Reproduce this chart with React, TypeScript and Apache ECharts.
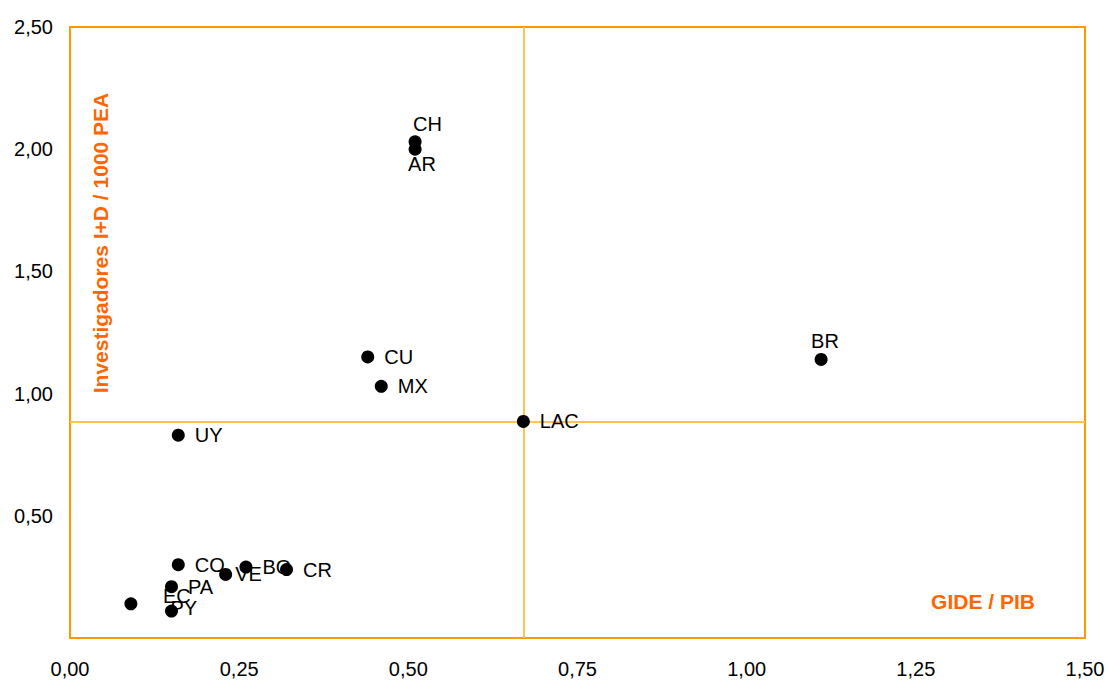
import React, { useEffect, useRef } from "react";
import * as echarts from "echarts";

const countryCodes = ["CH", "AR", "CU", "MX", "BR", "LAC", "UY", "CO", "BO", "VE", "CR", "PA", "EC", "PY"];
const gidePib = [0.51, 0.51, 0.44, 0.46, 1.11, 0.67, 0.16, 0.16, 0.26, 0.23, 0.32, 0.15, 0.09, 0.15];
const investigadores = [2.03, 2.0, 1.15, 1.03, 1.14, 0.886, 0.83, 0.3, 0.29, 0.26, 0.28, 0.21, 0.14, 0.11];

const xTicks = { min: 0, max: 1.5, interval: 0.25 };
const yTicks = { min: 0, max: 2.5, interval: 0.5 };

const xTitle = "GIDE / PIB";
const yTitle = "Investigadores I+D / 1000 PEA";
const referenceCode = "LAC";

// label placement overrides (offset from point centre, in px)
const labelOffsets: Record<string, [number, number]> = {
  CH: [-2, -18],
  AR: [-7, 15],
  BR: [-10, -18],
  EC: [32, -8],
  PY: [-1, -3],
  VE: [9.5, 0],
};

const FONT = "'Liberation Sans', Arial, sans-serif";
const ORANGE = "#FF9900";
const TITLE_ORANGE = "#FF6600";
const LINE_ORANGE = "#FFC44F";

const fmt = (v: number) => v.toFixed(2).replace(".", ",");

export default function App() {
  const ref = useRef<HTMLDivElement>(null);

  useEffect(() => {
    if (!ref.current) return;
    document.body.style.margin = "0";
    const chart = echarts.init(ref.current, undefined, { renderer: "svg" });
    const refIdx = countryCodes.indexOf(referenceCode);
    const refX = gidePib[refIdx];
    const refY = investigadores[refIdx];

    const labelData = countryCodes.map((c, i) => {
      const off = labelOffsets[c];
      const item: any = { name: c, value: [gidePib[i], investigadores[i]] };
      if (off) {
        item.label = {
          position: ["50%", "50%"],
          align: "left",
          verticalAlign: "middle",
          offset: off,
        };
      }
      return item;
    });
    const dotData = countryCodes.map((c, i) => ({ name: c, value: [gidePib[i], investigadores[i]] }));

    const titles = [
      {
        type: "text",
        x: 100,
        y: 243,
        rotation: Math.PI / 2,
        z: 5,
        style: {
          text: yTitle,
          fill: TITLE_ORANGE,
          font: `bold 21px ${FONT}`,
          align: "center",
          verticalAlign: "middle",
          textAlign: "center",
          textVerticalAlign: "middle",
        },
      },
      {
        type: "text",
        x: 983,
        y: 601,
        z: 5,
        style: {
          text: xTitle,
          fill: TITLE_ORANGE,
          font: `bold 21px ${FONT}`,
          align: "center",
          verticalAlign: "middle",
          textAlign: "center",
          textVerticalAlign: "middle",
        },
      },
    ];

    chart.setOption({
      animation: false,
      grid: {
        left: 70,
        right: 24,
        top: 27,
        bottom: 44,
        show: true,
        borderColor: ORANGE,
        borderWidth: 2,
        backgroundColor: "transparent",
        containLabel: false,
        outerBoundsMode: "none",
      },
      xAxis: {
        type: "value",
        min: xTicks.min,
        max: xTicks.max,
        interval: xTicks.interval,
        axisLine: { show: false },
        axisTick: { show: false },
        splitLine: { show: false },
        axisLabel: {
          formatter: (v: number) => fmt(v),
          fontSize: 20,
          color: "#000",
          fontFamily: FONT,
          margin: 21,
        },
      },
      yAxis: {
        type: "value",
        min: yTicks.min,
        max: yTicks.max,
        interval: yTicks.interval,
        axisLine: { show: false },
        axisTick: { show: false },
        splitLine: { show: false },
        axisLabel: {
          formatter: (v: number) => (v === 0 ? "" : fmt(v)),
          fontSize: 20,
          color: "#000",
          fontFamily: FONT,
          margin: 17,
        },
      },
      graphic: titles,
      series: [
        {
          name: "labels",
          type: "scatter",
          z: 3,
          symbol: "circle",
          symbolSize: 13,
          itemStyle: { color: "rgba(0,0,0,0)", opacity: 1 },
          silent: true,
          label: {
            show: true,
            position: "right",
            distance: 10,
            formatter: (p: any) => p.name,
            color: "#000",
            opacity: 1,
            fontSize: 20,
            fontFamily: FONT,
          },
          data: labelData,
        },
        {
          name: "dots",
          type: "scatter",
          z: 4,
          symbol: "circle",
          symbolSize: 13,
          silent: true,
          itemStyle: { color: "#000", opacity: 1 },
          label: { show: false },
          data: dotData,
        },
      ],
    });

    // reference lines through the LAC point, positioned via the chart's own scales
    const top = chart.convertToPixel({ gridIndex: 0 }, [refX, yTicks.max]) as number[];
    const bottom = chart.convertToPixel({ gridIndex: 0 }, [refX, yTicks.min]) as number[];
    const left = chart.convertToPixel({ gridIndex: 0 }, [xTicks.min, refY]) as number[];
    const right = chart.convertToPixel({ gridIndex: 0 }, [xTicks.max, refY]) as number[];
    const vx = Math.floor(top[0]);
    const hy = Math.floor(left[1]);
    chart.setOption({
      graphic: [
        ...titles,
        {
          type: "rect",
          z: 1,
          silent: true,
          shape: { x: vx, y: top[1], width: 2, height: bottom[1] - top[1] },
          style: { fill: LINE_ORANGE, stroke: null },
        },
        {
          type: "rect",
          z: 1,
          silent: true,
          shape: { x: left[0], y: hy, width: right[0] - left[0], height: 2 },
          style: { fill: LINE_ORANGE, stroke: null },
        },
      ],
    });

    return () => chart.dispose();
  }, []);

  return <div ref={ref} style={{ width: 1109, height: 682, background: "#fff" }} />;
}
